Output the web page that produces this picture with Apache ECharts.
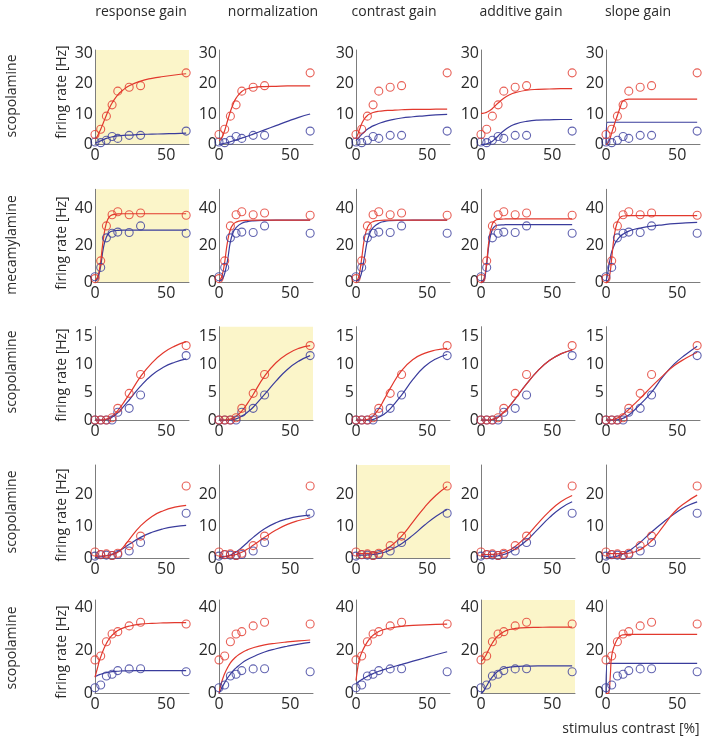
<!DOCTYPE html>
<html>
<head>
<meta charset="utf-8">
<script src="https://cdn.jsdelivr.net/npm/echarts@6/dist/echarts.min.js"></script>
<style>
html,body{margin:0;padding:0;background:#fff;}
#chart{width:708px;height:738px;}
</style>
</head>
<body>
<div id="chart"></div>
<script>
// ---------- data ----------
const columnTitles = ['response gain', 'normalization', 'contrast gain', 'additive gain', 'slope gain'];
const rowLabels = ['scopolamine', 'mecamylamine', 'scopolamine', 'scopolamine', 'scopolamine'];
const yAxisTitle = 'firing rate [Hz]';
const xAxisTitle = 'stimulus contrast [%]';
const yMaxByRow = [31, 50, 16.8, 29.4, 43.6];
const yStepByRow = [10, 20, 5, 10, 20];
const xMax = 66;
const xStep = 50;
const highlightedColumn = [0, 0, 1, 2, 3];

// measured contrasts
const contrast = [0, 4, 8, 12, 16, 24, 32, 64];
const redRate1 = [3.3, 5.0, 9.3, 13.0, 17.5, 18.8, 19.3, 23.5];
const blueRate1 = [0.8, 0.6, 1.4, 2.6, 2.0, 3.0, 3.0, 4.4];
const redRate2 = [2.2, 11.7, 30.4, 36.4, 38.0, 36.4, 37.3, 36.1];
const blueRate2 = [3.2, 8.2, 24.0, 26.5, 27.1, 26.9, 30.4, 26.5];
const redRate3 = [0, 0, 0, 0.4, 2.1, 4.8, 8.2, 13.4];
const blueRate3 = [0, 0, 0, 0, 1.4, 2.1, 4.5, 11.6];
const redRate4 = [2.0, 1.2, 1.4, 0.9, 1.6, 4.0, 7.0, 22.8];
const blueRate4 = [0.7, 1.1, 1.0, 0.9, 1.2, 2.3, 5.0, 14.2];
const redRate5 = [15.6, 17.4, 24.1, 27.7, 28.8, 31.5, 33.2, 32.4];
const blueRate5 = [2.6, 3.9, 8.1, 8.9, 10.6, 11.4, 11.5, 10.1];

// fitted curves, sampled at fitX (one list per column)
const fitX = [0, 1, 2, 3, 4, 6, 8, 10, 12, 16, 20, 24, 32, 40, 48, 56, 64];
const redFit1 = [
  [2.0, 2.3, 3.0, 4.0, 5.0, 7.3, 9.6, 11.8, 13.6, 16.3, 18.0, 19.3, 20.8, 21.7, 22.3, 22.8, 23.2],
  [1.2, 1.5, 2.2, 3.3, 4.6, 7.8, 10.8, 13.3, 15.2, 17.4, 18.3, 18.7, 19.0, 19.1, 19.2, 19.2, 19.2],
  [2.0, 3.0, 4.3, 5.6, 6.8, 8.5, 9.5, 10.1, 10.5, 10.9, 11.1, 11.2, 11.4, 11.5, 11.5, 11.6, 11.6],
  [10.2, 10.2, 10.3, 10.4, 10.6, 11.1, 11.8, 12.7, 13.6, 15.2, 16.3, 17.0, 17.8, 18.1, 18.2, 18.3, 18.3],
  [0, 0.3, 1.0, 2.2, 3.8, 6.8, 9.5, 12.2, 14.3, 14.9, 14.9, 14.9, 14.9, 14.9, 14.9, 14.9, 14.9]
];
const blueFit1 = [
  [0.5, 0.6, 0.8, 1.0, 1.2, 1.6, 2.0, 2.3, 2.5, 2.8, 3.0, 3.1, 3.3, 3.4, 3.5, 3.6, 3.7],
  [0, 0.1, 0.2, 0.3, 0.4, 0.6, 0.9, 1.2, 1.5, 2.1, 2.7, 3.4, 4.8, 6.2, 7.6, 8.9, 10.0],
  [1.3, 1.8, 2.3, 2.8, 3.3, 4.2, 5.0, 5.6, 6.1, 6.9, 7.5, 8.0, 8.7, 9.1, 9.4, 9.7, 9.9],
  [0, 0, 0.05, 0.1, 0.2, 0.6, 1.1, 1.9, 2.8, 4.5, 5.8, 6.7, 7.6, 8.0, 8.1, 8.2, 8.2],
  [0, 7.3, 7.3, 7.3, 7.3, 7.3, 7.3, 7.3, 7.3, 7.3, 7.3, 7.3, 7.3, 7.3, 7.3, 7.3, 7.3]
];
const redFit2 = [
  [1.5, 2.0, 3.5, 6.5, 11.5, 24.0, 32.0, 35.2, 36.3, 36.8, 36.9, 36.9, 36.9, 36.9, 36.9, 36.9, 36.9],
  [1.2, 1.8, 3.5, 6.5, 11.0, 22.0, 28.5, 31.3, 32.4, 33.2, 33.4, 33.5, 33.5, 33.5, 33.5, 33.5, 33.5],
  [1.0, 1.5, 3.5, 7.5, 13.0, 24.0, 29.5, 31.8, 32.7, 33.3, 33.5, 33.5, 33.5, 33.5, 33.5, 33.5, 33.5],
  [0.5, 0.8, 2.0, 5.0, 11.0, 25.0, 31.5, 33.3, 33.9, 34.1, 34.2, 34.2, 34.2, 34.2, 34.2, 34.2, 34.2],
  [0, 0.5, 2.0, 6.0, 13.0, 26.0, 32.5, 35.0, 35.7, 35.9, 35.9, 35.9, 35.9, 35.9, 35.9, 35.9, 35.9]
];
const blueFit2 = [
  [1.2, 1.6, 2.8, 5.0, 9.0, 19.0, 24.5, 26.8, 27.6, 28.0, 28.1, 28.1, 28.1, 28.1, 28.1, 28.1, 28.1],
  [0.8, 1.0, 1.6, 2.8, 5.0, 12.0, 22.0, 27.0, 29.5, 31.8, 32.7, 33.1, 33.4, 33.5, 33.5, 33.5, 33.5],
  [0.8, 1.0, 1.8, 3.0, 5.5, 14.0, 22.5, 27.0, 29.5, 31.8, 32.8, 33.2, 33.4, 33.5, 33.5, 33.5, 33.5],
  [0, 0.2, 1.0, 4.0, 10.0, 22.5, 28.5, 30.3, 30.8, 31.0, 31.1, 31.1, 31.1, 31.1, 31.1, 31.1, 31.1],
  [1.0, 4.0, 9.0, 13.0, 16.5, 20.5, 23.0, 24.8, 26.0, 27.6, 28.6, 29.3, 30.3, 31.0, 31.6, 32.0, 32.3]
];
const redFit3 = [
  [0, 0, 0, 0, 0, 0.05, 0.15, 0.35, 0.7, 1.7, 3.1, 4.6, 7.8, 10.3, 12.1, 13.3, 14.1],
  [0, 0, 0, 0, 0, 0.05, 0.15, 0.35, 0.65, 1.6, 3.0, 4.6, 7.9, 10.3, 11.9, 12.9, 13.4],
  [0, 0, 0, 0, 0, 0, 0.1, 0.3, 0.7, 2.0, 3.8, 5.7, 8.9, 10.9, 12.0, 12.6, 12.9],
  [0, 0, 0, 0, 0, 0, 0.1, 0.25, 0.5, 1.4, 2.5, 3.8, 6.5, 8.9, 10.7, 11.9, 12.6],
  [0, 0, 0, 0.02, 0.05, 0.15, 0.35, 0.65, 1.0, 1.9, 2.9, 3.9, 6.0, 8.0, 9.8, 11.1, 12.2]
];
const blueFit3 = [
  [0, 0, 0, 0, 0, 0, 0.1, 0.25, 0.5, 1.3, 2.4, 3.6, 6.1, 8.1, 9.5, 10.4, 11.0],
  [0, 0, 0, 0, 0, 0, 0, 0.1, 0.2, 0.7, 1.4, 2.3, 4.6, 7.0, 9.1, 10.6, 11.6],
  [0, 0, 0, 0, 0, 0, 0, 0, 0.1, 0.5, 1.1, 2.0, 4.5, 7.3, 9.6, 11.0, 11.8],
  [0, 0, 0, 0, 0, 0, 0.1, 0.25, 0.5, 1.4, 2.5, 3.8, 6.5, 8.9, 10.7, 11.9, 12.6],
  [0, 0, 0, 0, 0, 0, 0.05, 0.15, 0.3, 0.9, 1.8, 2.8, 5.0, 7.8, 10.1, 11.8, 13.3]
];
const redFit4 = [
  [0.7, 0.7, 0.7, 0.7, 0.7, 0.75, 0.8, 0.9, 1.1, 1.9, 3.6, 5.9, 10.2, 13.2, 15.0, 16.1, 16.7],
  [0.5, 0.5, 0.5, 0.55, 0.6, 0.7, 0.8, 1.0, 1.2, 1.9, 2.9, 4.1, 6.6, 8.9, 10.7, 11.9, 12.7],
  [1.5, 1.5, 1.5, 1.5, 1.5, 1.5, 1.55, 1.6, 1.7, 2.0, 2.7, 3.7, 7.0, 11.5, 16.0, 19.8, 22.6],
  [1.2, 1.2, 1.2, 1.2, 1.2, 1.2, 1.25, 1.3, 1.4, 1.8, 2.6, 3.7, 7.0, 11.0, 14.8, 17.8, 19.8],
  [1.5, 1.5, 1.5, 1.5, 1.5, 1.5, 1.5, 1.5, 1.5, 1.6, 2.0, 2.8, 5.5, 10.0, 14.6, 17.6, 19.9]
];
const blueFit4 = [
  [0.3, 0.3, 0.35, 0.4, 0.45, 0.6, 0.8, 1.0, 1.3, 2.1, 3.2, 4.4, 6.6, 8.2, 9.3, 10.0, 10.4],
  [0.3, 0.3, 0.35, 0.4, 0.5, 0.7, 1.0, 1.5, 2.0, 3.4, 5.0, 6.6, 9.3, 11.2, 12.4, 13.2, 13.6],
  [1.0, 1.0, 1.0, 1.0, 1.0, 1.0, 1.05, 1.1, 1.2, 1.5, 1.9, 2.6, 4.6, 7.3, 10.4, 13.2, 15.4],
  [0.6, 0.6, 0.6, 0.6, 0.6, 0.6, 0.65, 0.7, 0.8, 1.2, 1.9, 2.9, 5.6, 9.2, 12.8, 15.8, 17.8],
  [0.2, 0.2, 0.25, 0.3, 0.35, 0.5, 0.7, 1.0, 1.4, 2.3, 3.6, 5.0, 8.3, 11.3, 14.0, 16.3, 17.8]
];
const redFit5 = [
  [7.5, 10.0, 12.5, 15.0, 17.0, 20.5, 23.3, 25.5, 27.1, 29.3, 30.6, 31.4, 32.3, 32.7, 32.9, 33.0, 33.0],
  [0, 3.0, 5.5, 7.5, 9.3, 12.0, 14.2, 15.8, 17.1, 19.0, 20.3, 21.3, 22.6, 23.4, 24.0, 24.5, 24.9],
  [6.0, 11.0, 15.0, 17.3, 19.0, 21.8, 24.0, 25.8, 27.1, 28.9, 29.9, 30.5, 31.3, 31.7, 32.0, 32.2, 32.3],
  [15.0, 15.5, 16.3, 17.3, 18.5, 21.2, 23.5, 25.4, 26.9, 28.8, 29.8, 30.3, 30.7, 30.8, 30.9, 30.9, 30.9],
  [0, 0, 0.3, 8.0, 17.5, 22.5, 25.3, 26.8, 27.3, 27.5, 27.5, 27.5, 27.5, 27.5, 27.5, 27.5, 27.5]
];
const blueFit5 = [
  [7.8, 8.1, 8.4, 8.7, 8.9, 9.3, 9.7, 9.9, 10.1, 10.3, 10.5, 10.5, 10.6, 10.6, 10.6, 10.6, 10.6],
  [0, 1.2, 2.5, 3.8, 5.0, 7.2, 9.0, 10.6, 11.9, 14.1, 15.8, 17.1, 19.3, 20.8, 22.0, 23.0, 23.8],
  [4.5, 5.0, 5.5, 6.0, 6.4, 7.2, 7.9, 8.6, 9.2, 10.3, 11.2, 12.0, 13.5, 15.0, 16.5, 18.0, 19.4],
  [0, 0.4, 1.2, 2.3, 3.5, 5.8, 7.7, 9.2, 10.3, 11.6, 12.2, 12.5, 12.7, 12.8, 12.8, 12.8, 12.8],
  [0, 14.0, 14.0, 14.0, 14.0, 14.0, 14.0, 14.0, 14.0, 14.0, 14.0, 14.0, 14.0, 14.0, 14.0, 14.0, 14.0]
];

// ---------- layout / style ----------
const redRates = [redRate1, redRate2, redRate3, redRate4, redRate5];
const blueRates = [blueRate1, blueRate2, blueRate3, blueRate4, blueRate5];
const redFits = [redFit1, redFit2, redFit3, redFit4, redFit5];
const blueFits = [blueFit1, blueFit2, blueFit3, blueFit4, blueFit5];

const colLeft = [95, 219, 356, 481, 606];
const rowTop = [50, 189.3, 326.7, 465, 600];
const rowZero = [144.5, 282.7, 420, 558.3, 693.3];
const panelW = 94;
const titleX = [141, 273, 394, 521, 638];
const titleY = 12;
const rowLabelY = [96, 245, 372, 512, 648];
const yTitleY = [92, 243, 375, 515, 652];

const RED = '#E2382D';
const BLUE = '#3A3C9C';
const HILITE = '#FBF5C9';
const AXIS = '#7d7d7d';
const TXT = '#2a2a2a';
const FONT = '"Open Sans", "DejaVu Sans", sans-serif';

const grids = [], xAxes = [], yAxes = [], series = [], graphics = [];

function stepFormatter(step) {
  return function (v) {
    const k = v / step;
    return Math.abs(k - Math.round(k)) < 1e-6 ? String(Math.round(v)) : '';
  };
}

let gi = 0;
for (let r = 0; r < 5; r++) {
  for (let c = 0; c < 5; c++) {
    const hl = highlightedColumn[r] === c;
    grids.push({
      left: colLeft[c], top: rowTop[r], width: panelW, height: rowZero[r] - rowTop[r],
      show: hl, backgroundColor: HILITE, borderWidth: 0, containLabel: false
    });
    xAxes.push({
      gridIndex: gi, type: 'value', min: 0, max: xMax, interval: xStep,
      axisLine: { show: true, onZero: false, lineStyle: { color: AXIS, width: 1 } },
      axisTick: { show: false }, splitLine: { show: false },
      axisLabel: { fontSize: 16, color: TXT, fontFamily: FONT, margin: 3, formatter: stepFormatter(xStep) }
    });
    yAxes.push({
      gridIndex: gi, type: 'value', min: 0, max: yMaxByRow[r], interval: yStepByRow[r],
      axisLine: { show: true, onZero: false, lineStyle: { color: AXIS, width: 1 } },
      axisTick: { show: false }, splitLine: { show: false },
      axisLabel: { fontSize: 16, color: TXT, fontFamily: FONT, margin: 2, formatter: stepFormatter(yStepByRow[r]) }
    });
    const mk = (ys) => contrast.map((x, i) => [x, ys[i]]);
    const mkFit = (ys) => fitX.map((x, i) => [x, ys[i]]);
    series.push({
      type: 'line', xAxisIndex: gi, yAxisIndex: gi, data: mkFit(blueFits[r][c]),
      showSymbol: false, symbol: 'none', smooth: true, clip: false, silent: true,
      lineStyle: { color: BLUE, width: 1.2 }, z: 3
    });
    series.push({
      type: 'line', xAxisIndex: gi, yAxisIndex: gi, data: mkFit(redFits[r][c]),
      showSymbol: false, symbol: 'none', smooth: true, clip: false, silent: true,
      lineStyle: { color: RED, width: 1.2 }, z: 4
    });
    series.push({
      type: 'scatter', xAxisIndex: gi, yAxisIndex: gi, data: mk(blueRates[r]),
      symbol: 'circle', symbolSize: 8, clip: false, silent: true,
      itemStyle: { color: 'rgba(0,0,0,0)', borderColor: BLUE, borderWidth: 1.1 }, z: 5
    });
    series.push({
      type: 'scatter', xAxisIndex: gi, yAxisIndex: gi, data: mk(redRates[r]),
      symbol: 'circle', symbolSize: 8, clip: false, silent: true,
      itemStyle: { color: 'rgba(0,0,0,0)', borderColor: RED, borderWidth: 1.1 }, z: 6
    });
    gi++;
  }
}

// texts
for (let c = 0; c < 5; c++) {
  graphics.push({ type: 'text', x: titleX[c], y: titleY,
    style: { text: columnTitles[c], fill: TXT, font: '14px ' + FONT, textAlign: 'center', textVerticalAlign: 'middle' } });
}
for (let r = 0; r < 5; r++) {
  graphics.push({ type: 'text', x: 12, y: rowLabelY[r], rotation: Math.PI / 2,
    style: { text: rowLabels[r], fill: TXT, font: '14px ' + FONT, textAlign: 'center', textVerticalAlign: 'middle' } });
  graphics.push({ type: 'text', x: 62, y: yTitleY[r], rotation: Math.PI / 2,
    style: { text: yAxisTitle, fill: TXT, font: '14px ' + FONT, textAlign: 'center', textVerticalAlign: 'middle' } });
}
graphics.push({ type: 'text', x: 631, y: 729,
  style: { text: xAxisTitle, fill: TXT, font: '14px ' + FONT, textAlign: 'center', textVerticalAlign: 'middle' } });

const chart = echarts.init(document.getElementById('chart'), null, { renderer: 'canvas' });
chart.setOption({
  animation: false,
  backgroundColor: '#ffffff',
  grid: grids, xAxis: xAxes, yAxis: yAxes, series: series, graphic: graphics
});
</script>
</body>
</html>
